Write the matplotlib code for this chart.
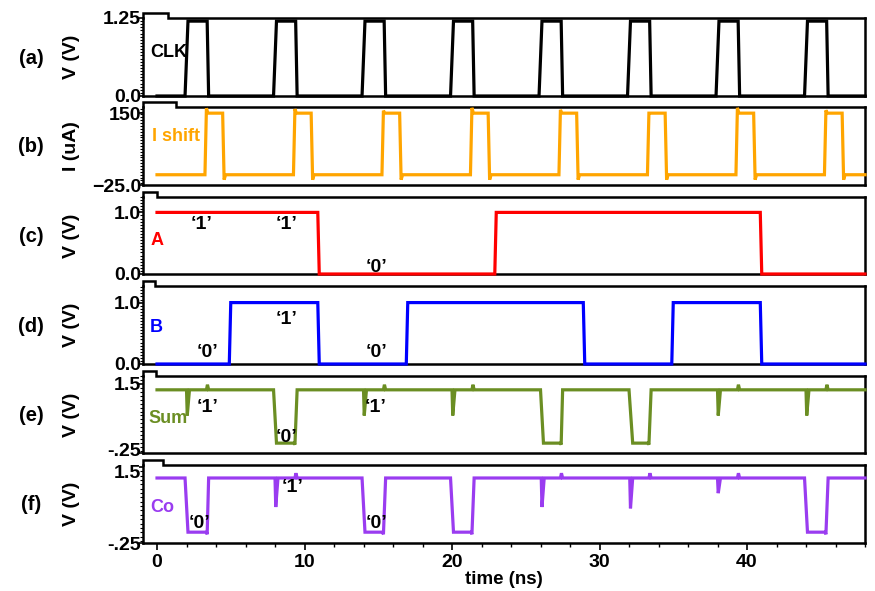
import matplotlib
matplotlib.use("Agg")
import matplotlib.pyplot as plt
from matplotlib.ticker import MultipleLocator, FixedLocator
from matplotlib.transforms import ScaledTranslation

plt.rcParams['font.family'] = ['Liberation Sans', 'DejaVu Sans']
plt.rcParams['font.weight'] = 'bold'

# data (time in ns)
clk_t = [0, 1.9, 2.1, 3.4, 3.5, 7.9, 8.1, 9.4, 9.5, 13.9, 14.1, 15.4, 15.5,
         19.9, 20.1, 21.4, 21.5, 25.9, 26.1, 27.4, 27.5, 31.9, 32.1, 33.4, 33.5,
         37.9, 38.1, 39.4, 39.5, 43.9, 44.1, 45.4, 45.5, 48]
clk_v = [0, 0, 1.2, 1.2, 0, 0, 1.2, 1.2, 0, 0, 1.2, 1.2, 0,
         0, 1.2, 1.2, 0, 0, 1.2, 1.2, 0, 0, 1.2, 1.2, 0,
         0, 1.2, 1.2, 0, 0, 1.2, 1.2, 0, 0]

ishift_t = [0,
            3.25, 3.35, 3.45, 4.45, 4.55, 4.65,
            9.25, 9.35, 9.45, 10.45, 10.55, 10.65,
            15.25, 15.35, 15.45, 16.45, 16.55, 16.65,
            21.25, 21.35, 21.45, 22.45, 22.55, 22.65,
            27.25, 27.35, 27.45, 28.45, 28.55, 28.65,
            33.25, 33.35, 33.45, 34.45, 34.55, 34.65,
            39.25, 39.35, 39.45, 40.45, 40.55, 40.65,
            45.25, 45.35, 45.45, 46.45, 46.55, 46.65,
            48]
ishift_v = [0,
            0, 162, 150, 150, -12, 0,
            0, 160, 150, 150, -12, 0,
            0, 156, 150, 150, -12, 0,
            0, 163, 150, 150, -12, 0,
            0, 158, 150, 150, -12, 0,
            0, 150, 150, 150, -12, 0,
            0, 163, 150, 150, -12, 0,
            0, 157, 150, 150, -12, 0,
            0]

a_t = [0, 10.9, 11.0, 22.9, 23.0, 40.9, 41.0, 48]
a_v = [1, 1, 0, 0, 1, 1, 0, 0]

b_t = [0, 4.9, 5.0, 10.9, 11.0, 16.9, 17.0, 28.9, 29.0, 34.9, 35.0, 40.9, 41.0, 48]
b_v = [0, 0, 1, 1, 0, 0, 1, 1, 0, 0, 1, 1, 0, 0]

sum_t = [0,
         2.0, 2.05, 2.2, 3.35, 3.42, 3.5,
         7.9, 8.1, 9.3, 9.35, 9.5,
         14.0, 14.05, 14.2, 15.35, 15.42, 15.5,
         20.0, 20.05, 20.2, 21.35, 21.42, 21.5,
         26.0, 26.2, 27.35, 27.4, 27.5,
         32.0, 32.25, 33.3, 33.35, 33.5,
         38.0, 38.05, 38.2, 39.35, 39.42, 39.5,
         44.0, 44.05, 44.2, 45.35, 45.42, 45.5,
         48]
sum_v = [1.35,
         1.35, 0.7, 1.35, 1.35, 1.48, 1.35,
         1.35, 0.0, 0.0, -0.04, 1.35,
         1.35, 0.7, 1.35, 1.35, 1.48, 1.35,
         1.35, 0.7, 1.35, 1.35, 1.48, 1.35,
         1.35, 0.0, 0.0, -0.04, 1.35,
         1.35, 0.0, 0.0, -0.04, 1.35,
         1.35, 0.7, 1.35, 1.35, 1.48, 1.35,
         1.35, 0.7, 1.35, 1.35, 1.48, 1.35,
         1.35]

co_t = [0,
        1.9, 2.1, 3.35, 3.4, 3.5,
        8.0, 8.05, 8.2, 9.35, 9.42, 9.5,
        13.9, 14.1, 15.3, 15.35, 15.5,
        19.9, 20.1, 21.3, 21.35, 21.5,
        26.05, 26.1, 26.25, 27.35, 27.42, 27.5,
        32.05, 32.1, 32.25, 33.35, 33.42, 33.5,
        38.0, 38.05, 38.2, 39.35, 39.42, 39.5,
        43.9, 44.1, 45.3, 45.35, 45.5,
        48]
co_v = [1.25,
        1.25, 0.0, 0.0, -0.05, 1.25,
        1.25, 0.58, 1.25, 1.25, 1.36, 1.25,
        1.25, 0.0, 0.0, -0.05, 1.25,
        1.25, 0.0, 0.0, -0.05, 1.25,
        1.25, 0.58, 1.25, 1.25, 1.36, 1.25,
        1.25, 0.55, 1.25, 1.25, 1.36, 1.25,
        1.25, 0.9, 1.25, 1.25, 1.36, 1.25,
        1.25, 0.0, 0.0, -0.05, 1.25,
        1.25]

names = ['CLK', 'I shift', 'A', 'B', 'Sum', 'Co']
panel_tags = ['(a)', '(b)', '(c)', '(d)', '(e)', '(f)']
ylabels = ['V (V)', 'I (uA)', 'V (V)', 'V (V)', 'V (V)', 'V (V)']
yticks = [[0, 1.25], [-25, 150], [0, 1.0], [0, 1.0], [-0.25, 1.5], [-0.25, 1.5]]
yticklabels = [['0.0', '1.25'], ['\u221225.0', '150'], ['0.0', '1.0'], ['0.0', '1.0'],
               ['-.25', '1.5'], ['-.25', '1.5']]

# bit labels: (panel, time, value, text)
bit_notes = [
    (2, 3.05, 0.80, '\u20181\u2019'), (2, 8.8, 0.80, '\u20181\u2019'), (2, 14.9, 0.11, '\u20180\u2019'),
    (3, 3.4, 0.18, '\u20180\u2019'), (3, 8.8, 0.72, '\u20181\u2019'), (3, 14.85, 0.18, '\u20180\u2019'),
    (4, 3.4, 0.91, '\u20181\u2019'), (4, 8.8, 0.15, '\u20180\u2019'), (4, 14.8, 0.91, '\u20181\u2019'),
    (5, 2.85, 0.19, '\u20180\u2019'), (5, 9.2, 1.02, '\u20181\u2019'), (5, 14.85, 0.19, '\u20180\u2019'),
]

traces = [(clk_t, clk_v), (ishift_t, ishift_v), (a_t, a_v), (b_t, b_v), (sum_t, sum_v), (co_t, co_v)]
colors = ['black', '#FFA500', '#FF0000', '#0000FF', '#6B8E23', '#9A3CF0']

# layout (pixels in the 875x591 picture)
W, H = 875, 591
left_px, right_px = 143, 865
rows_px = [(18, 96), (107, 185), (197, 274), (286, 364), (376, 453), (465, 543)]
ylims = [(0, 1.25), (-25, 165), (0, 1.25), (0, 1.27), (-0.25, 1.7), (-0.25, 1.55)]
minor_steps = [0.05, 7, 0.05, 0.05, 0.1, 0.1]
notch_px = [25, 33, 14, 12, 13, 20]
name_pos = [(0.01, 0.56), (0.012, 0.62), (0.01, 0.44), (0.01, 0.47), (0.007, 0.45), (0.01, 0.46)]
# small vertical nudges (pixels) of the crowded low/high tick labels
label_nudge = {(4, 0): 4, (5, 1): -4}

fig = plt.figure(figsize=(W / 100, H / 100), dpi=100)

for i in range(6):
    top, bot = rows_px[i]
    ax = fig.add_axes([left_px / W, 1 - bot / H, (right_px - left_px) / W, (bot - top) / H])
    t, v = traces[i]
    ax.plot(t, v, color=colors[i], lw=2.3, solid_joinstyle='miter', zorder=3, clip_on=False)
    ax.set_xlim(-0.95, 48)
    ax.set_ylim(*ylims[i])

    for s in ['left', 'right', 'bottom']:
        ax.spines[s].set_linewidth(1.8)
    ax.spines['top'].set_visible(False)
    # stepped top frame
    hh = 5 / (bot - top)
    ww = notch_px[i] / (right_px - left_px)
    ax.plot([0, 0, ww, ww, 1], [1, 1 + hh, 1 + hh, 1, 1], color='black', lw=1.8,
            transform=ax.transAxes, clip_on=False, solid_joinstyle='miter')

    ax.yaxis.set_major_locator(FixedLocator(yticks[i]))
    ax.set_yticklabels(yticklabels[i])
    ax.yaxis.set_minor_locator(MultipleLocator(minor_steps[i]))
    ax.tick_params(axis='y', which='major', direction='out', length=3, width=1.2,
                   pad=-1.5, labelsize=14)
    ax.tick_params(axis='y', which='minor', direction='out', length=2, width=0.8)
    for k, tk in enumerate(ax.yaxis.get_major_ticks()):
        tk.label1.set_fontweight('bold')
        if (i, k) in label_nudge:
            dy = label_nudge[(i, k)] / 100
            tk.label1.set_transform(tk.label1.get_transform()
                                    + ScaledTranslation(0, dy, fig.dpi_scale_trans))

    ax.set_ylabel(ylabels[i], fontsize=14, fontweight='bold')
    ax.yaxis.set_label_coords(-0.087, 0.5)

    ax.text(name_pos[i][0], name_pos[i][1], names[i], transform=ax.transAxes,
            color=colors[i], fontsize=13, fontweight='bold', va='center', ha='left')

    fig.text(31 / W, 1 - ((top + bot) / 2 + 1) / H, panel_tags[i], fontsize=14.5,
             fontweight='bold', ha='center', va='center')

    if i < 5:
        ax.set_xticks([])
    else:
        ax.xaxis.set_major_locator(MultipleLocator(10))
        ax.xaxis.set_minor_locator(MultipleLocator(2))
        ax.tick_params(axis='x', which='major', direction='out', length=5, width=1.2,
                       labelsize=14, pad=3)
        ax.tick_params(axis='x', which='minor', direction='out', length=3, width=1.0)
        for lab in ax.get_xticklabels():
            lab.set_fontweight('bold')
        ax.set_xlabel('time (ns)', fontsize=13.5, fontweight='bold', labelpad=0)

    for p, tx, vy, s in bit_notes:
        if p == i:
            ax.text(tx, vy, s, fontsize=14, fontweight='bold', ha='center', va='center', zorder=5)

fig.savefig('out.png', dpi=100)
